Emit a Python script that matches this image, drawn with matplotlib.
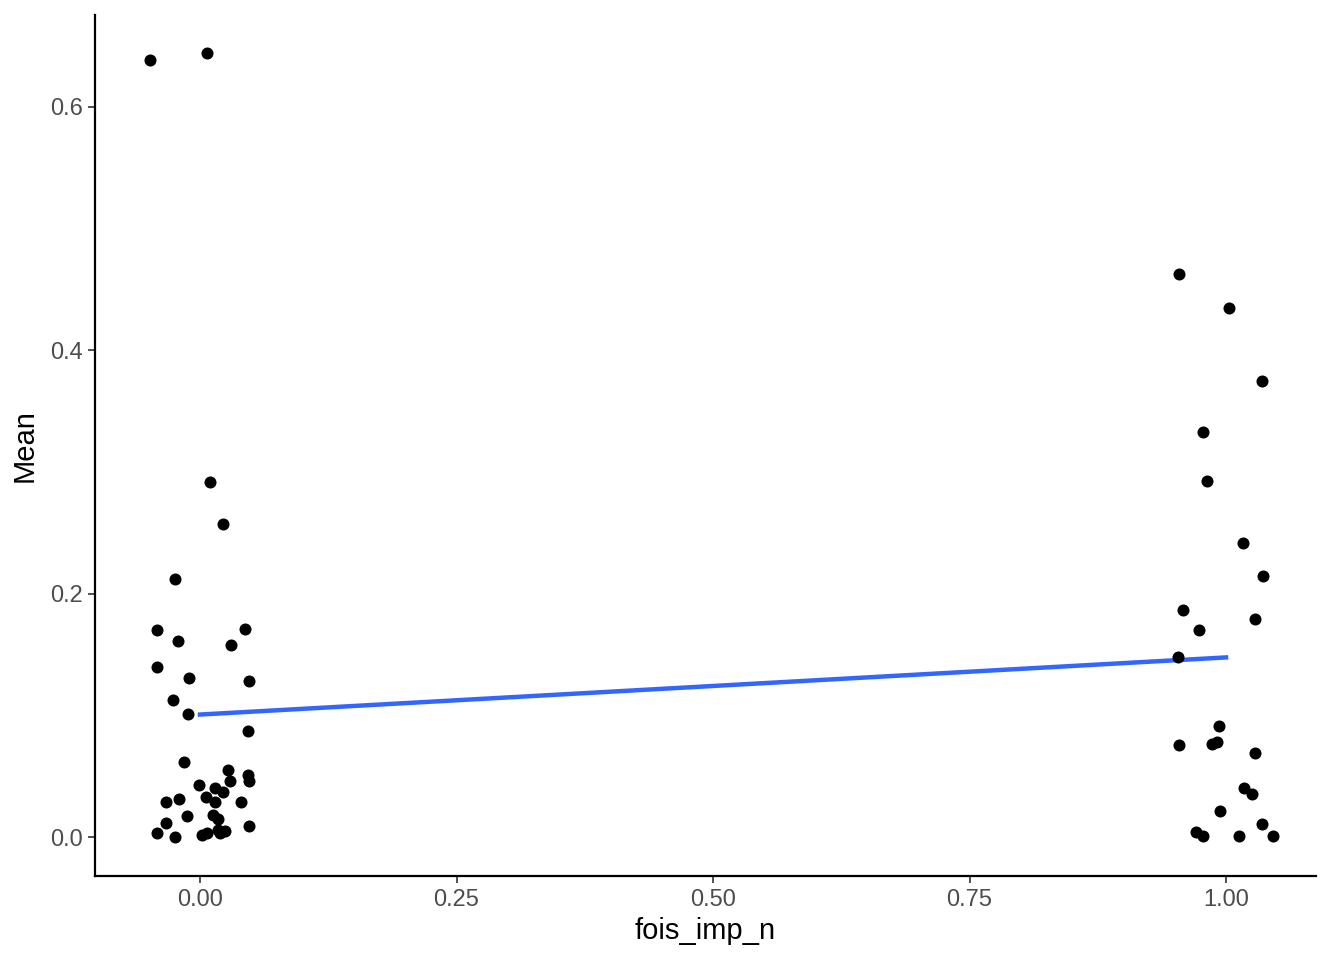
import numpy as np
import matplotlib
matplotlib.use("Agg")
import matplotlib.pyplot as plt

# jittered points: group fois_imp_n = 0
x0 = [-0.0487, 0.0068, 0.0097, 0.0224, -0.0244, -0.0419, -0.0214, 0.0439, 0.0302, -0.0419,
      -0.0107, 0.0478, -0.0263, -0.0117, 0.0468, -0.0156, 0.0273, 0.0471, 0.0478, 0.0289,
      -0.0013, 0.0146, 0.0224, 0.0058, 0.0146, -0.0331, -0.0205, 0.0396, -0.0124, 0.0123,
      0.0179, -0.0328, -0.0416, -0.0247, 0.0478, 0.0023, 0.0065, 0.0195, 0.0244, 0.0179]
y0 = [0.639, 0.644, 0.292, 0.257, 0.212, 0.170, 0.161, 0.171, 0.158, 0.140,
      0.131, 0.128, 0.113, 0.101, 0.087, 0.062, 0.0553, 0.051, 0.046, 0.046,
      0.0425, 0.040, 0.037, 0.033, 0.029, 0.029, 0.031, 0.029, 0.0175, 0.018,
      0.0145, 0.0118, 0.003, 0.0003, 0.0088, 0.0016, 0.0035, 0.003, 0.005, 0.0057]
# group fois_imp_n = 1
x1 = [0.9542, 1.0029, 1.0351, 0.9776, 0.9815, 1.0166, 1.0361, 0.9581, 1.0283, 0.9740,
      0.9529, 0.9932, 0.9542, 0.9866, 0.9915, 1.0280, 1.0175, 1.0257, 0.9944, 1.0348,
      0.9708, 0.9779, 1.0124, 1.0461]
y1 = [0.4627, 0.4348, 0.3748, 0.3329, 0.2926, 0.2416, 0.2148, 0.1863, 0.1792, 0.1699,
      0.1482, 0.0912, 0.0759, 0.0767, 0.0783, 0.069, 0.0403, 0.0356, 0.0214, 0.0104,
      0.0044, 0.0006, 0.0011, 0.0006]

xs = np.array(x0 + x1)
ys = np.array(y0 + y1)
groups = np.array([0] * len(x0) + [1] * len(x1))

# linear fit on the unjittered group value
slope, intercept = np.polyfit(groups, ys, 1)
xl = np.array([0.0, 1.0])

plt.rcParams['font.family'] = ['Liberation Sans', 'DejaVu Sans']
fig = plt.figure(figsize=(13.44, 9.6), dpi=100)
ax = fig.add_axes([0.0707, 0.0875, 0.9085, 0.8969])

ax.scatter(xs, ys, s=75, color="black", linewidths=0, zorder=3)
ax.plot(xl, intercept + slope * xl, color="#3366FF", linewidth=3.2, zorder=2)

ax.set_xlim(-0.1023, 1.0877)
ax.set_ylim(-0.032, 0.6756)
ax.set_xticks([0, 0.25, 0.5, 0.75, 1.0])
ax.set_xticklabels(["0.00", "0.25", "0.50", "0.75", "1.00"])
ax.set_yticks([0, 0.2, 0.4, 0.6])
ax.set_yticklabels(["0.0", "0.2", "0.4", "0.6"])
ax.tick_params(colors="#333333", labelcolor="#4D4D4D", labelsize=17, length=5, width=1.2, pad=4)
ax.set_xlabel("fois_imp_n", fontsize=21, labelpad=5)
ax.set_ylabel("Mean", fontsize=21, labelpad=8)
for s in ["top", "right"]:
    ax.spines[s].set_visible(False)
for s in ["left", "bottom"]:
    ax.spines[s].set_linewidth(1.6)
    ax.spines[s].set_color("black")

fig.savefig("out.png", dpi=100)
